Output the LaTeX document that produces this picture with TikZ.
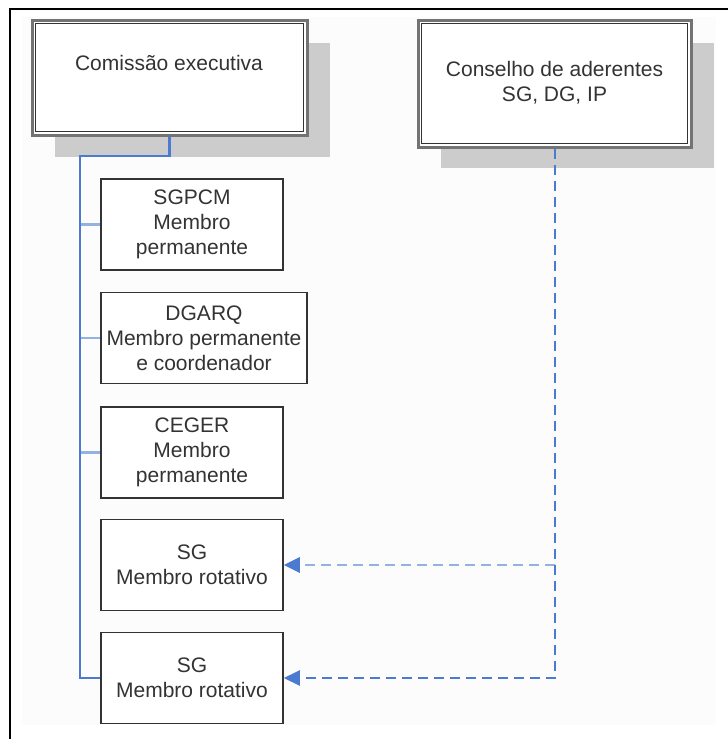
\documentclass[tikz,border=0pt]{standalone}
\usepackage{fontspec}
\setmainfont{Liberation Sans}
\usetikzlibrary{arrows.meta}
\definecolor{txt}{HTML}{333333}
\definecolor{shadowgray}{HTML}{CCCCCC}
\definecolor{trunk}{HTML}{4A7BD0}
\definecolor{twig}{HTML}{92B2E2}
\definecolor{bg}{HTML}{FCFCFC}
\tikzset{
  member/.style={draw=txt, line width=1.5pt, fill=white, text=txt, align=center,
    minimum width=182pt, minimum height=91pt, inner sep=2pt,
    font=\fontsize{21}{25}\selectfont},
  headbox/.style={draw=black!55, line width=3pt, fill=white, inner sep=0pt},
  label/.style={text=txt, align=center, inner sep=0pt, font=\fontsize{21}{25}\selectfont},
  trunkline/.style={draw=trunk, line width=2.8pt},
  twigline/.style={draw=twig, line width=2.8pt},
  dashline/.style={draw=trunk, line width=2pt, dash pattern=on 10pt off 6pt},
  dashtwig/.style={draw=twig, line width=2.8pt, dash pattern=on 10pt off 6pt},
  tip/.style={-{Triangle[length=16pt,width=15pt,color=trunk,fill=trunk]}}
}
\begin{document}
\begin{tikzpicture}[x=1pt,y=-1pt]
\useasboundingbox (0,0) rectangle (728,739);
\fill[white] (0,0) rectangle (728,739);
\fill[bg] (22,17) rectangle (716,725);
\draw[line width=2pt, black] (10,739) -- (10,9) -- (728,9);

% shadows
\fill[shadowgray] (55,43) rectangle (330,157);
\fill[shadowgray] (441,43) rectangle (714,168);

% head boxes
\node[headbox, minimum width=275pt, minimum height=115pt] (ce) at (169.5,77.5) {};
\draw[txt, line width=1.5pt] ([shift={(5pt,-5pt)}]ce.north west) rectangle ([shift={(-5pt,5pt)}]ce.south east);
\node[label] (cetext) at (169,63) {Comissão executiva};

\node[headbox, minimum width=273pt, minimum height=127pt] (ca) at (554.5,83.5) {};
\draw[txt, line width=1.5pt] ([shift={(5pt,-5pt)}]ca.north west) rectangle ([shift={(-5pt,5pt)}]ca.south east);
\node[label] (catext) at (554.5,82.5) {Conselho de aderentes\\SG, DG, IP};

% members
\node[member] (m1) at (192,224.5) {SGPCM\\Membro\\permanente};
\node[member, minimum width=206pt] (m2) at (204,338) {DGARQ\\Membro permanente\\e coordenador};
\node[member] (m3) at (192,452.5) {CEGER\\Membro\\permanente};
\node[member] (m4) at (192,565) {SG\\Membro rotativo};
\node[member] (m5) at (192,678) {SG\\Membro rotativo};

% trunk
\coordinate (t0) at (80,156);
\draw[twigline] (t0 |- m1.west) -- (m1.west);
\draw[twigline] (t0 |- m2.west) -- (m2.west);
\draw[twigline] (t0 |- m3.west) -- (m3.west);
\draw[trunkline] (ce.south) |- (t0) |- (m5.west);

% dashed links
\coordinate (d1) at (ca.south |- m4.east);
\draw[dashtwig, tip] (d1) -- (m4.east);
\draw[dashline, tip] (ca.south) |- (m5.east);
\end{tikzpicture}
\end{document}
